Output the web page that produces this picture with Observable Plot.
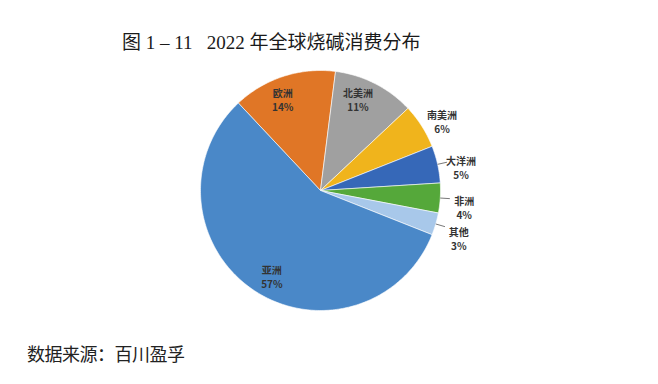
<!DOCTYPE html>
<html>
<head>
<meta charset="utf-8">
<script src="https://cdn.jsdelivr.net/npm/d3@7"></script>
<script src="https://cdn.jsdelivr.net/npm/@observablehq/plot@0.6"></script>
<style>
  html, body { margin: 0; padding: 0; background: #fff; width: 658px; height: 384px; overflow: hidden; }
  #title { height: 60px; box-sizing: border-box; padding-left: 122px; padding-top: 31px;
    font-family: "Liberation Serif", "Noto Sans CJK SC", serif; font-size: 19px; line-height: 24px; color: #1a1a1a; white-space: pre; }
  #chart svg { display: block; }
  #caption { height: 59px; box-sizing: border-box; padding-left: 27px; padding-top: 17px;
    font-family: "Noto Sans CJK SC", sans-serif; font-size: 18px; line-height: 22px; color: #222; letter-spacing: -0.5px; }
</style>
</head>
<body>
<div id="title">图 1 – 11   2022 年全球烧碱消费分布</div>
<div id="chart"></div>
<div id="caption">数据来源：百川盈孚</div>
<script>
const categories = ["欧洲", "北美洲", "南美洲", "大洋洲", "非洲", "其他", "亚洲"];
const shares = [14, 11, 6, 5, 4, 3, 57];
const shareLabels = ["14%", "11%", "6%", "5%", "4%", "3%", "57%"];
const colors = ["#e07626", "#a0a0a0", "#f0b41c", "#3668b8", "#55a83a", "#a8c8ea", "#4a88c8"];

const startAngle = -43.2 * Math.PI / 180;
const arcs = d3.pie().sort(null).startAngle(startAngle).endAngle(startAngle + 2 * Math.PI)(shares);

// wedge outlines in unit-circle coordinates (angle 0 = up, clockwise)
const wedgePts = [];
arcs.forEach((a, i) => {
  const name = categories[i];
  wedgePts.push({name, x: 0, y: 0});
  const n = Math.max(2, Math.ceil((a.endAngle - a.startAngle) / (Math.PI / 180)));
  for (let k = 0; k <= n; k++) {
    const t = a.startAngle + (a.endAngle - a.startAngle) * k / n;
    wedgePts.push({name, x: Math.sin(t), y: Math.cos(t)});
  }
  wedgePts.push({name, x: 0, y: 0});
});

const labelData = arcs.map((a, i) => {
  const mid = (a.startAngle + a.endAngle) / 2;
  const outside = shares[i] < 10;
  const r = outside ? 1.2 : 0.82;
  const shift = outside ? 0 : -0.08; // nudge inside labels counter-clockwise
  return {name: categories[i], text: categories[i] + "\n" + shareLabels[i], outside,
          x: r * Math.sin(mid + shift), y: r * Math.cos(mid + shift), mid, share: shares[i]};
});
const leaders = labelData.filter(d => d.share <= 5).map(d => ({
  x1: Math.sin(d.mid), y1: Math.cos(d.mid), x2: 1.08 * Math.sin(d.mid), y2: 1.08 * Math.cos(d.mid)
}));

const chart = Plot.plot({
  width: 658,
  height: 265,
  margin: 0,
  x: {domain: [-1, 1], range: [200, 440], axis: null},
  y: {domain: [-1, 1], range: [250, 10], axis: null},
  color: {domain: categories, range: colors, legend: false},
  marks: [
    Plot.line(wedgePts, {x: "x", y: "y", z: "name", fill: "name", stroke: "white", strokeWidth: 0.6, strokeLinejoin: "round"}),
    Plot.link(leaders, {x1: "x1", y1: "y1", x2: "x2", y2: "y2", stroke: "#555", strokeWidth: 0.8}),
    Plot.text(labelData.filter(d => !d.outside), {x: "x", y: "y", text: "text", fontSize: 10, fontWeight: "bold",
      fill: "#333", lineHeight: 1.4, fontFamily: "Noto Sans CJK SC"}),
    Plot.text(labelData.filter(d => d.outside), {x: "x", y: "y", text: "text", fontSize: 10, fontWeight: "bold",
      fill: "#333", lineHeight: 1.4, dy: 8, fontFamily: "Noto Sans CJK SC"})
  ]
});
document.getElementById("chart").appendChild(chart);
</script>
</body>
</html>
